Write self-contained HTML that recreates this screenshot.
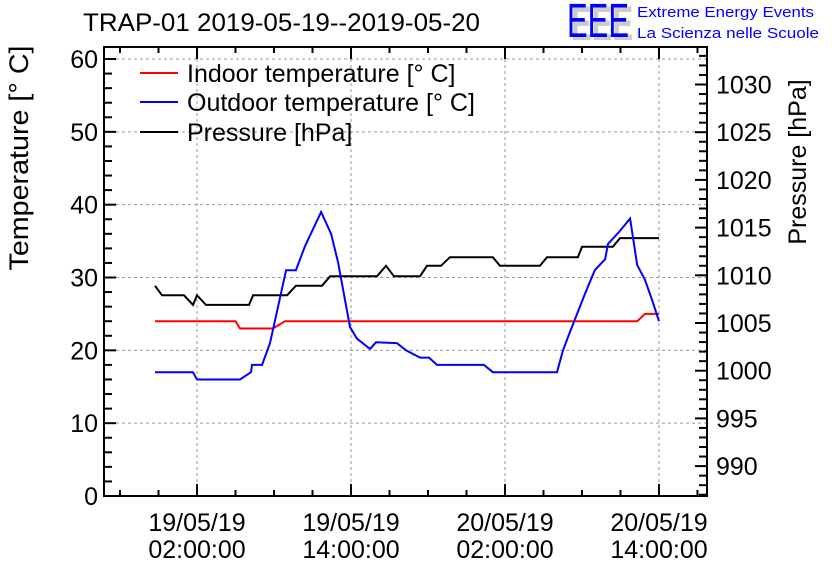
<!DOCTYPE html>
<html><head><meta charset="utf-8"><style>
body{margin:0;background:#fff;}
svg{display:block;font-family:"Liberation Sans",sans-serif;}
</style></head><body>
<svg id="c" width="836" height="572">
<text x="83" y="31" font-size="25" textLength="397" lengthAdjust="spacingAndGlyphs">TRAP-01 2019-05-19--2019-05-20</text>
<g>
<text x="571" y="40" font-size="48" font-weight="bold" fill="#ccc" textLength="62" lengthAdjust="spacingAndGlyphs">EEE</text>
<text x="567" y="37" font-size="48" fill="#0000ff" textLength="62" lengthAdjust="spacingAndGlyphs">EEE</text>
<text x="637" y="17" font-size="15" fill="#0000ff" textLength="177" lengthAdjust="spacingAndGlyphs">Extreme Energy Events</text>
<text x="637" y="38" font-size="15" fill="#0000ff" textLength="182" lengthAdjust="spacingAndGlyphs">La Scienza nelle Scuole</text>
</g>
<text transform="translate(28,158) rotate(-90)" text-anchor="middle" font-size="27" textLength="225" lengthAdjust="spacingAndGlyphs">Temperature [° C]</text>
<text transform="translate(806,162) rotate(-90)" text-anchor="middle" font-size="25">Pressure [hPa]</text>
</svg>
<script>
const tempTicks=[0,10,20,30,40,50,60];
const presTicks=[990,995,1000,1005,1010,1015,1020,1025,1030];
const xTickHours=[2,14,26,38];
const xTickLabels=[["19/05/19","02:00:00"],["19/05/19","14:00:00"],["20/05/19","02:00:00"],["20/05/19","14:00:00"]];
// hours since 2019-05-19 00:00
const outHours=[-1.27,1.69,2,5.35,6.21,6.29,7.07,7.69,8.94,9.71,10.42,11.67,12.45,13.0,13.92,14.47,15.48,15.95,17.58,18.29,18.83,19.38,20.08,20.7,21.4,24.36,25.06,30.05,30.52,31.06,32.24,33.0,33.8,34.03,34.96,35.75,36.3,36.9,37.45,38];
const outTemp=[17,17,16,16,17,18,18,21,31,31,34.3,39,36,32,23.2,21.6,20.2,21.1,21,20,19.5,19,19,18,18,18,17,17,20,22.5,27.8,31,32.5,34.6,36.4,38.1,31.7,29.7,27,24];
const inHours=[-1.27,5.0,5.35,7.92,8.86,36.3,36.9,38];
const inTemp=[24,24,23,23,24,24,25,25];
const pHours=[-1.27,-0.73,0.99,1.69,2,2.7,6.05,6.37,9.02,9.71,11.74,12.37,16.03,16.73,17.35,19.38,19.92,21.01,21.71,25.06,25.6,28.72,29.27,31.68,32.0,34.41,34.96,38];
const pVals=[1008.9,1007.9,1007.9,1006.9,1007.9,1006.9,1006.9,1007.9,1007.9,1008.9,1008.9,1009.9,1009.9,1011.0,1009.9,1009.9,1011.0,1011.0,1011.9,1011.9,1011.0,1011.0,1011.9,1011.9,1013.0,1013.0,1013.9,1013.9];

const L=104,R=707,T=47,B=496;
const xs=h=>171.33+h*12.833;
const yT=t=>B-t*7.283;
const yP=p=>323-(p-1005)*9.54;
const svg=document.getElementById('c');
const NS='http://www.w3.org/2000/svg';
function mk(tag,attrs,parent){const e=document.createElementNS(NS,tag);for(const k in attrs)e.setAttribute(k,attrs[k]);(parent||svg).appendChild(e);return e;}
const grid=mk('g',{stroke:'#999','stroke-dasharray':'3,3','stroke-width':1});


tempTicks.forEach(t=>{if(t>0)mk('line',{x1:L,x2:R,y1:yT(t),y2:yT(t)},grid);});
xTickHours.forEach(h=>mk('line',{x1:xs(h),x2:xs(h),y1:T,y2:B},grid));
const ax=mk('g',{stroke:'#000','stroke-width':2,fill:'none'});


mk('rect',{x:L,y:T,width:R-L,height:B-T},ax);
for(let t=0;t<=60;t+=2){const maj=t%10==0;mk('line',{x1:L,x2:L+(maj?12:8),y1:yT(t),y2:yT(t)},ax);}
for(let p=987;p<=1033;p++){const y=yP(p);if(y<T||y>B)continue;const maj=p%5==0;mk('line',{x1:R,x2:R-(maj?12:8),y1:y,y2:y},ax);}
for(let h=-4;h<=41;h+=3){const x=xs(h);if(x<L||x>R)continue;const maj=(h-2)%12==0;const len=maj?12:6;mk('line',{x1:x,x2:x,y1:B,y2:B-len},ax);mk('line',{x1:x,x2:x,y1:T,y2:T+len},ax);}
tempTicks.forEach(t=>{const e=mk('text',{x:L-6,y:yT(t)+9,'text-anchor':'end','font-size':25});e.textContent=t;

});
presTicks.forEach(p=>{const e=mk('text',{x:R+9,y:yP(p)+9,'font-size':25});e.textContent=p;

});
xTickHours.forEach((h,i)=>{[0,1].forEach(j=>{const e=mk('text',{x:xs(h),y:531+j*27,'text-anchor':'middle','font-size':25});e.textContent=xTickLabels[i][j];

});});
function line(hs,vs,fy,col,name){const pts=hs.map((h,i)=>xs(h).toFixed(1)+','+fy(vs[i]).toFixed(1)).join(' ');const e=mk('polyline',{points:pts,fill:'none',stroke:col,'stroke-width':2});

}
line(pHours,pVals,yP,'#000','pressure-line');
line(inHours,inTemp,yT,'#f00','indoor-temperature-line');
line(outHours,outTemp,yT,'#00f','outdoor-temperature-line');
const leg=[['Indoor temperature [° C]','#f00',73],['Outdoor temperature [° C]','#00f',102],['Pressure [hPa]','#000',132]];
leg.forEach(l=>{const g=mk('g',{});


mk('line',{x1:140,x2:178,y1:l[2],y2:l[2],stroke:l[1],'stroke-width':2},g);const t=mk('text',{x:187,y:l[2]+9,'font-size':25},g);t.textContent=l[0];});
</script>
</body></html>
